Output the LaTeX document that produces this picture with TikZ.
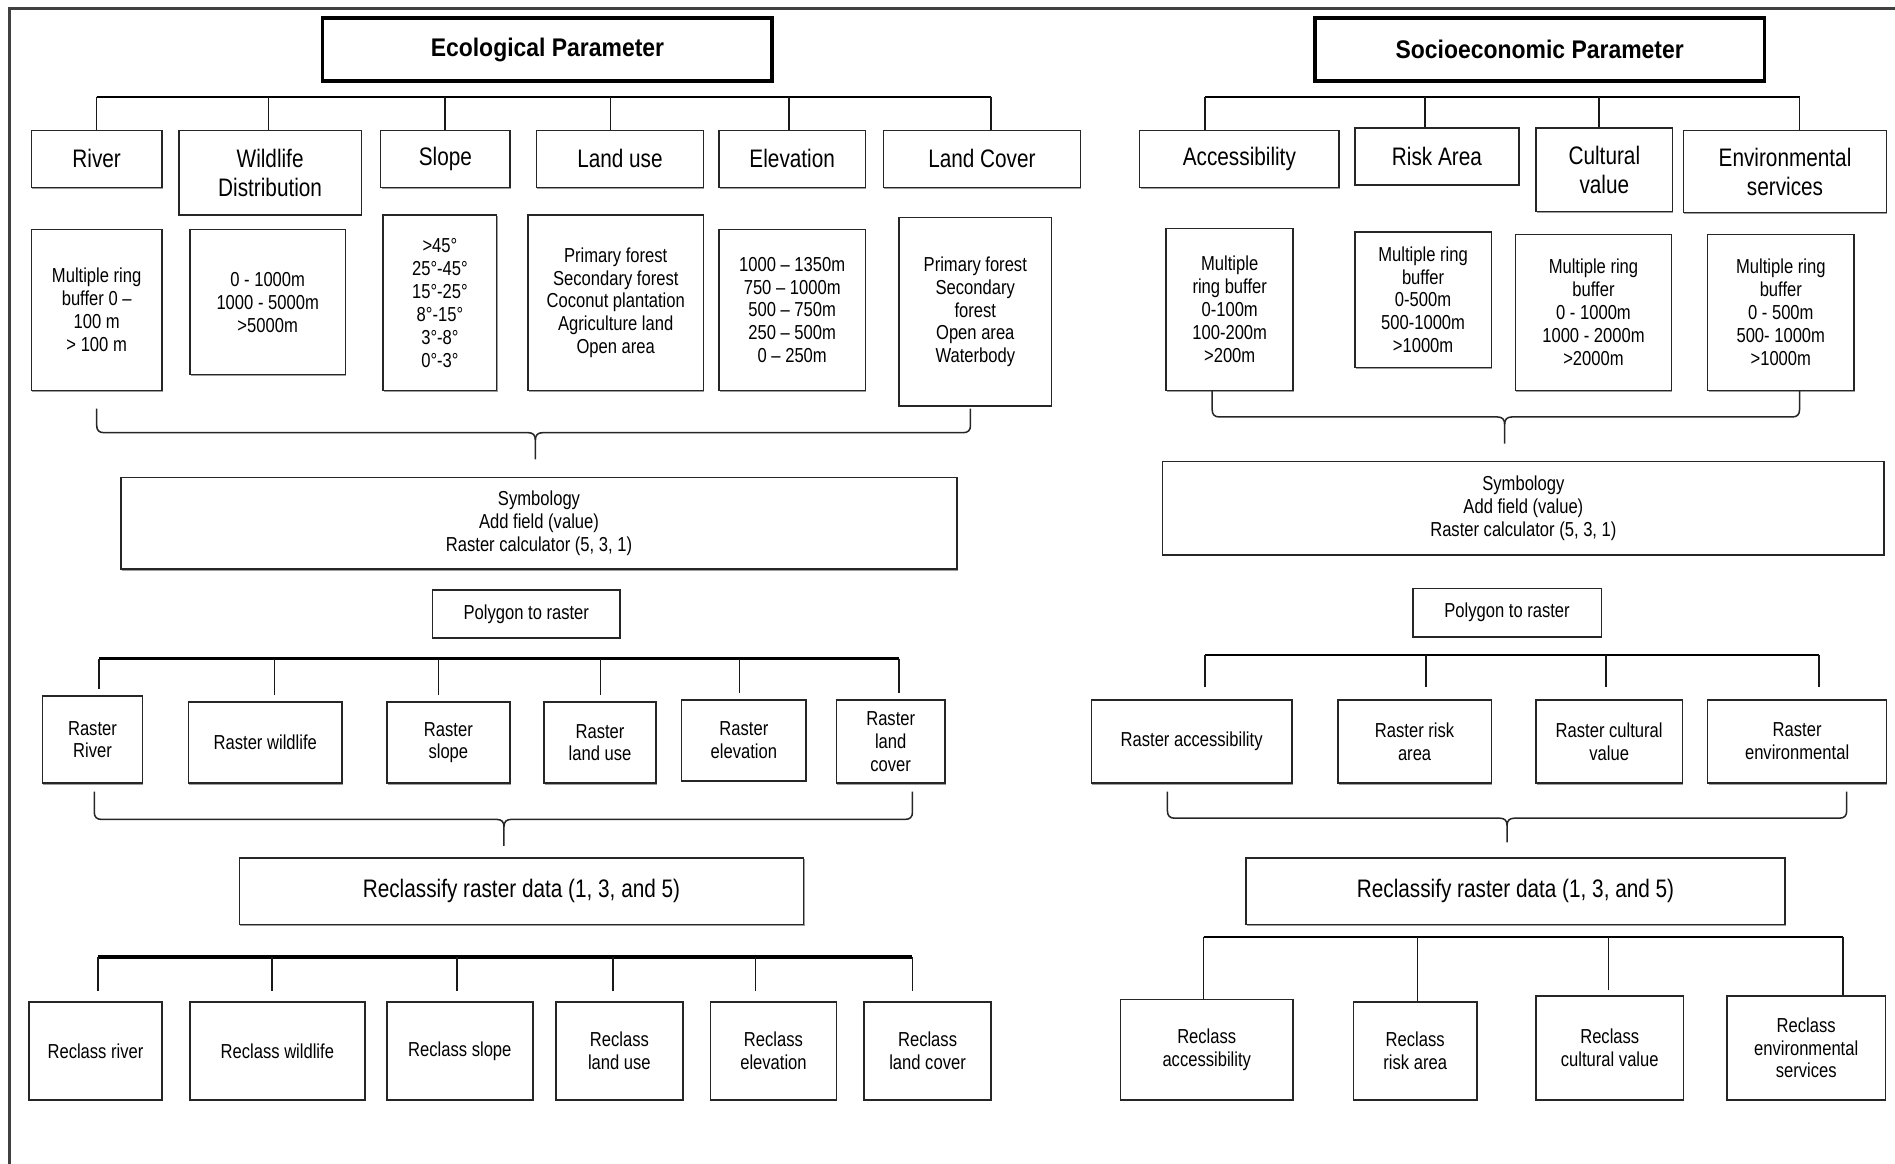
\documentclass[tikz,border=0pt]{standalone}
\usepackage{fontspec}
\setmainfont[FakeStretch=0.82]{Liberation Sans}
\newfontfamily\headfont[FakeStretch=0.9]{Liberation Sans}
\usetikzlibrary{shadows}

\newcommand\lab{\fontsize{14.9}{17.2}\selectfont}
\newcommand\sml{\fontsize{11.9}{13.5}\selectfont}
\newcommand\ttl{\headfont\bfseries\fontsize{15}{18}\selectfont}

% box from corner (x1,y1) to corner (x2,y2), in drawing units
\newcommand\bx[7][]{%
  \node[box,#1,minimum width={(#5-#3)*0.025cm},minimum height={(#6-#4)*0.025cm}]
    (#2) at ({(#3+#5)/2},{(#4+#6)/2}) {#7};}

% curly bracket: left x, right x, tip x, top y, bar y, bottom y
\newcommand\brc[6]{%
  \draw[brc] (#1,#4) -- ({#1},{#5-6}) .. controls ({#1},{#5-2}) and ({#1+2},{#5}) .. ({#1+6},{#5})
    -- ({#3-6},{#5}) .. controls ({#3-2},{#5}) and ({#3},{#5+2}) .. ({#3},{#5+6}) -- (#3,#6);
  \draw[brc] (#2,#4) -- ({#2},{#5-6}) .. controls ({#2},{#5-2}) and ({#2-2},{#5}) .. ({#2-6},{#5})
    -- ({#3+6},{#5}) .. controls ({#3+2},{#5}) and ({#3},{#5+2}) .. ({#3},{#5+6});}

\tikzset{
  box/.style={draw=black!85, line width=0.9pt, fill=white, align=center, inner sep=1pt,
    font=\lab, drop shadow={shadow xshift=0.5pt, shadow yshift=-0.8pt, fill=black!55, opacity=0.7}},
  small/.style={font=\sml},
  title/.style={line width=2.1pt, draw=black, font=\ttl},
  bus/.style={line width=1.4pt, black},
  stem/.style={line width=0.9pt, black!90},
  brc/.style={line width=0.9pt, black!85},
  frame/.style={line width=1.4pt, black!75}
}

\begin{document}
\begin{tikzpicture}[x=0.025cm, y=-0.025cm]
\useasboundingbox (0,0) rectangle (1568,963);
\draw[frame] (8,963) -- (8,7) -- (1568,7);

%% ---------------- Ecological parameter ----------------
\bx[title]{ecoT}{267}{15}{639}{67}{Ecological Parameter}

\bx{river}{26}{108}{134}{155}{River}
\bx{wild}{148}{108}{299}{178}{Wildlife\\Distribution}
\bx{slope}{315}{108}{422}{155}{Slope}
\bx{luse}{444}{108}{582}{155}{Land use}
\bx{elev}{595}{108}{716}{155}{Elevation}
\bx{lcov}{731}{108}{894}{155}{Land Cover}

\foreach \n/\x in {river/80, wild/222, slope/368, luse/505, elev/653, lcov/820}
  \coordinate (tA\n) at (\x,80);
\draw[bus] (tAriver) -- (tAlcov);
\foreach \n in {river, wild, slope, luse, elev, lcov}
  \draw[stem] (tA\n) -- (tA\n |- \n.north);

\bx[small]{riverD}{26}{190}{134}{323}{Multiple ring\\buffer 0 –\\100 m\\> 100 m}
\bx[small]{wildD}{157}{190}{286}{310}{0 - 1000m\\1000 - 5000m\\>5000m}
\bx[small]{slopeD}{317}{178}{411}{323}{>45°\\25°-45°\\15°-25°\\8°-15°\\3°-8°\\0°-3°}
\bx[small]{luseD}{437}{178}{582}{323}{Primary forest\\Secondary forest\\Coconut plantation\\Agriculture land\\Open area}
\bx[small]{elevD}{595}{190}{716}{323}{1000 – 1350m\\750 – 1000m\\500 – 750m\\250 – 500m\\0 – 250m}
\bx[small]{lcovD}{744}{180}{870}{336}{Primary forest\\Secondary\\forest\\Open area\\Waterbody}

\brc{80}{803}{443}{338}{358}{380}

\bx[small]{symL}{100}{395}{792}{471}{Symbology\\Add field (value)\\Raster calculator (5, 3, 1)}
\bx[small]{polyL}{358}{488}{513}{528}{Polygon to raster}

\bx[small]{rRiv}{35}{576}{118}{648}{Raster\\River}
\bx[small]{rWild}{156}{581}{283}{648}{Raster wildlife}
\bx[small]{rSlope}{320}{581}{422}{648}{Raster\\slope}
\bx[small]{rLuse}{450}{581}{543}{648}{Raster\\land use}
\bx[small]{rElev}{564}{579}{667}{646}{Raster\\elevation}
\bx[small]{rLcov}{692}{579}{782}{648}{Raster\\land\\cover}

\foreach \n/\x in {rRiv/82, rWild/227, rSlope/363, rLuse/497, rElev/612, rLcov/744}
  \coordinate (tB\n) at (\x,545);
\draw[bus] (tBrRiv) -- (tBrLcov);
\foreach \n in {rRiv, rWild, rSlope, rLuse, rElev, rLcov}
  \draw[stem, shorten >=5*0.025cm] (tB\n) -- (tB\n |- \n.north);

\brc{78}{755}{417}{655}{678}{700}

\bx{recL}{198}{710}{665}{765}{Reclassify raster data (1, 3, and 5)}

\bx[small]{cRiv}{24}{829}{134}{910}{Reclass river}
\bx[small]{cWild}{157}{829}{302}{910}{Reclass wildlife}
\bx[small]{cSlope}{320}{829}{441}{910}{Reclass slope}
\bx[small]{cLuse}{460}{829}{565}{910}{Reclass\\land use}
\bx[small]{cElev}{588}{829}{692}{910}{Reclass\\elevation}
\bx[small]{cLcov}{715}{829}{820}{910}{Reclass\\land cover}

\foreach \n/\x in {cRiv/81, cWild/225, cSlope/378, cLuse/507, cElev/625, cLcov/755}
  \coordinate (tC\n) at (\x,792);
\draw[bus, line width=2pt] (tCcRiv) -- (tCcLcov);
\foreach \n in {cRiv, cWild, cSlope, cLuse, cElev, cLcov}
  \draw[stem, shorten >=8*0.025cm] (tC\n) -- (tC\n |- \n.north);

%% ---------------- Socioeconomic parameter ----------------
\bx[title]{socT}{1088}{15}{1460}{67}{Socioeconomic Parameter}

\bx{acc}{943}{108}{1108}{155}{Accessibility}
\bx{risk}{1121}{106}{1257}{153}{Risk Area}
\bx{cult}{1271}{106}{1384}{175}{Cultural\\value}
\bx{env}{1393}{108}{1561}{176}{Environmental\\services}

\foreach \n/\x in {acc/997, risk/1179, cult/1323, env/1489}
  \coordinate (tD\n) at (\x,80);
\draw[bus, line width=1.1pt] (tDacc) -- (tDenv);
\foreach \n in {acc, risk, cult, env}
  \draw[stem] (tD\n) -- (tD\n |- \n.north);

\bx[small]{accD}{965}{189}{1070}{323}{Multiple\\ring buffer\\0-100m\\100-200m\\>200m}
\bx[small]{riskD}{1121}{192}{1234}{304}{Multiple ring\\buffer\\0-500m\\500-1000m\\>1000m}
\bx[small]{cultD}{1254}{194}{1383}{323}{Multiple ring\\buffer\\0 - 1000m\\1000 - 2000m\\>2000m}
\bx[small]{envD}{1413}{194}{1534}{323}{Multiple ring\\buffer\\0 - 500m\\500- 1000m\\>1000m}

\brc{1003}{1489}{1245}{323}{345}{367}

\bx[small]{symR}{962}{382}{1559}{459}{Symbology\\Add field (value)\\Raster calculator (5, 3, 1)}
\bx[small]{polyR}{1169}{487}{1325}{527}{Polygon to raster}

\bx[small]{rAcc}{903}{579}{1069}{648}{Raster accessibility}
\bx[small]{rRisk}{1107}{579}{1234}{648}{Raster risk\\area}
\bx[small]{rCult}{1271}{579}{1392}{648}{Raster cultural\\value}
\bx[small]{rEnv}{1413}{579}{1561}{648}{Raster\\environmental}

\foreach \n/\x in {rAcc/997, rRisk/1180, rCult/1329, rEnv/1505}
  \coordinate (tE\n) at (\x,542);
\draw[bus, line width=1.1pt] (tErAcc) -- (tErEnv);
\foreach \n in {rAcc, rRisk, rCult, rEnv}
  \draw[stem, shorten >=10*0.025cm] (tE\n) -- (tE\n |- \n.north);

\brc{966}{1528}{1247}{655}{677}{697}

\bx{recR}{1031}{710}{1477}{765}{Reclassify raster data (1, 3, and 5)}

\bx[small]{cAcc}{927}{827}{1070}{910}{Reclass\\accessibility}
\bx[small]{cRisk}{1120}{829}{1222}{910}{Reclass\\risk area}
\bx[small]{cCult}{1271}{824}{1393}{910}{Reclass\\cultural value}
\bx[small]{cEnv}{1429}{824}{1560}{910}{Reclass\\environmental\\services}

\foreach \n/\x in {cAcc/996, cRisk/1173, cCult/1331, cEnv/1525}
  \coordinate (tF\n) at (\x,775);
\draw[bus, line width=1.1pt] (tFcAcc) -- (tFcEnv);
\draw[stem] (tFcAcc) -- (tFcAcc |- cAcc.north);
\draw[stem] (tFcRisk) -- (tFcRisk |- cRisk.north);
\draw[stem, shorten >=4*0.025cm] (tFcCult) -- (tFcCult |- cCult.north);
\draw[stem] (tFcEnv) -- (tFcEnv |- cEnv.north);
\end{tikzpicture}
\end{document}
